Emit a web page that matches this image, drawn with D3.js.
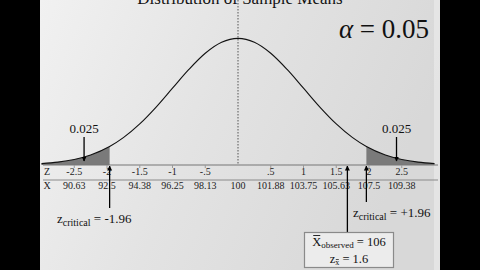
<!DOCTYPE html>
<html><head><meta charset="utf-8">
<script src="https://cdn.jsdelivr.net/npm/d3@7"></script>
<style>html,body{margin:0;padding:0;background:#000;}svg{display:block;}
text{font-family:"Liberation Serif","DejaVu Serif",serif;}</style>
</head><body>
<script>
// ---- data ----
const curveZ = [-3,-2.75,-2.5,-2.25,-1.96,-1.75,-1.5,-1.25,-1,-0.75,-0.5,-0.25,0,0.25,0.5,0.75,1,1.25,1.5,1.75,1.96,2.25,2.5,2.75,3];
const curveDensity = [0.0044,0.0091,0.0175,0.0317,0.0584,0.0863,0.1295,0.1826,0.2420,0.3011,0.3521,0.3867,0.3989,0.3867,0.3521,0.3011,0.2420,0.1826,0.1295,0.0863,0.0584,0.0317,0.0175,0.0091,0.0044];
const tickZ = [-2.5,-2,-1.5,-1,-0.5,0,0.5,1,1.5,2,2.5];
const tickZLabels = ["-2.5","-2","-1.5","-1","-.5","",".5","1","1.5","2","2.5"];
const tickXLabels = ["90.63","92.5","94.38","96.25","98.13","100","101.88","103.75","105.63","107.5","109.38"];
const zCritical = [-1.96, 1.96];
const tailProbLabels = ["0.025", "0.025"];
const tailLabelZ = [-2.35, 2.42];
const observedArrowZ = 1.67;
const observedMean = "106";
const observedZ = "1.6";
const alphaLabel = "0.05";

// ---- drawing ----
const W = 480, H = 270;
const svg = d3.select("body").append("svg").attr("width", W).attr("height", H);
const defs = svg.append("defs");
const grad = defs.append("linearGradient").attr("id","bg").attr("x1","0").attr("y1","0").attr("x2","1").attr("y2","0.3");
grad.append("stop").attr("offset","0").attr("stop-color","#f1f1f1");
grad.append("stop").attr("offset","0.5").attr("stop-color","#e3e3e3");
grad.append("stop").attr("offset","1").attr("stop-color","#d8d8d8");
defs.append("marker").attr("id","ah").attr("viewBox","0 0 10 10").attr("refX",9).attr("refY",5)
  .attr("markerWidth",5).attr("markerHeight",6).attr("orient","auto-start-reverse").attr("markerUnits","userSpaceOnUse")
  .append("path").attr("d","M0,0L10,5L0,10Z").attr("fill","#000");

svg.append("rect").attr("width",W).attr("height",H).attr("fill","#000");
svg.append("rect").attr("x",40).attr("y",0).attr("width",400).attr("height",H).attr("fill","url(#bg)");
svg.append("rect").attr("x",434).attr("y",0).attr("width",6).attr("height",H).attr("fill","#ececec").attr("opacity",0.6);

const x = d3.scaleLinear().domain([-3,3]).range([41.5,434.5]);
const y = d3.scaleLinear().domain([0,0.4]).range([165,38]);
const pts = curveZ.map((z,i)=>({z, d: curveDensity[i]}));

// title (cut off at top as in reference)
svg.append("text").attr("x",240).attr("y",4).attr("text-anchor","middle")
  .attr("font-size",17).attr("fill","#111").text("Distribution of Sample Means");

// shaded tails
const area = d3.area().x(p=>x(p.z)).y0(y(0)).y1(p=>y(p.d)).curve(d3.curveMonotoneX);
svg.append("path").datum(pts.filter(p=>p.z<=zCritical[0])).attr("d",area).attr("fill","#7a7a7a");
svg.append("path").datum(pts.filter(p=>p.z>=zCritical[1])).attr("d",area).attr("fill","#7a7a7a");

// mean dotted line
svg.append("line").attr("x1",x(0)).attr("x2",x(0)).attr("y1",0).attr("y2",y(0))
  .attr("stroke","#555").attr("stroke-width",1).attr("stroke-dasharray","1.5,1.5");

// curve
const line = d3.line().x(p=>x(p.z)).y(p=>y(p.d)).curve(d3.curveMonotoneX);
svg.append("path").datum(pts).attr("d",line).attr("fill","none").attr("stroke","#111").attr("stroke-width",1.1);

// axes lines
svg.append("line").attr("x1",43).attr("x2",438).attr("y1",y(0)).attr("y2",y(0)).attr("stroke","#777").attr("stroke-width",1.2);
svg.append("line").attr("x1",43).attr("x2",438).attr("y1",180).attr("y2",180).attr("stroke","#8a8a8a").attr("stroke-width",1);

// ticks
const tg = svg.append("g");
tg.selectAll("line.t").data(tickZ.filter(z=>z!==0)).join("line")
  .attr("x1",d=>x(d)).attr("x2",d=>x(d)).attr("y1",y(0)).attr("y2",y(0)+3).attr("stroke","#999");
tg.selectAll("text.z").data(tickZ).join("text").attr("class","z")
  .attr("x",d=>x(d)).attr("y",175).attr("text-anchor","middle").attr("font-size",10).attr("fill","#222")
  .text((d,i)=>tickZLabels[i]);
tg.selectAll("text.x").data(tickZ).join("text").attr("class","x")
  .attr("x",d=>x(d)).attr("y",189).attr("text-anchor","middle").attr("font-size",10).attr("fill","#222")
  .text((d,i)=>tickXLabels[i]);
svg.append("text").attr("x",47).attr("y",175).attr("text-anchor","middle").attr("font-size",10).attr("fill","#222").text("Z");
svg.append("text").attr("x",47).attr("y",189).attr("text-anchor","middle").attr("font-size",10).attr("fill","#222").text("X");

// alpha
const at = svg.append("text").attr("x",384).attr("y",38).attr("text-anchor","middle").attr("font-size",27).attr("fill","#111");
at.append("tspan").attr("font-style","italic").text("α");
at.append("tspan").text(" = " + alphaLabel);

// tail labels with arrows
tailLabelZ.forEach((z,i)=>{
  svg.append("text").attr("x",x(z)).attr("y",133).attr("text-anchor","middle").attr("font-size",13).attr("fill","#111").text(tailProbLabels[i]);
  svg.append("line").attr("x1",x(z)).attr("x2",x(z)).attr("y1",137).attr("y2",161).attr("stroke","#000").attr("stroke-width",1.3).attr("marker-end","url(#ah)");
});

// critical arrows
const critLabelY = [223, 217];
const critLabelX = [57, 353];
zCritical.forEach((z,i)=>{
  svg.append("line").attr("x1",x(z)).attr("x2",x(z)).attr("y1",critLabelY[i]-15).attr("y2",y(0)+1).attr("stroke","#000").attr("stroke-width",1.3).attr("marker-end","url(#ah)");
  const t = svg.append("text").attr("x",critLabelX[i]).attr("y",critLabelY[i]).attr("font-size",13).attr("fill","#111");
  t.append("tspan").text("z");
  t.append("tspan").attr("font-size",10).attr("dy",3).text("critical");
  t.append("tspan").attr("dy",-3).text(" = " + (z>0?"+":"") + z.toFixed(2));
});

// observed arrow and box
svg.append("line").attr("x1",x(observedArrowZ)).attr("x2",x(observedArrowZ)).attr("y1",232).attr("y2",y(0)+1).attr("stroke","#000").attr("stroke-width",1.3).attr("marker-end","url(#ah)");
svg.append("rect").attr("x",304.5).attr("y",232.5).attr("width",89).attr("height",35).attr("fill","#ececec").attr("stroke","#8a8a8a").attr("stroke-width",1.2);

function subText(cx, baseY, main, sub, rest, subSize, subDy, size){
  const t = svg.append("text").attr("y",baseY).attr("font-size",size).attr("fill","#111");
  t.append("tspan").text(main);
  t.append("tspan").attr("font-size",subSize).attr("dy",subDy).text(sub);
  t.append("tspan").attr("dy",-subDy).text(rest);
  const w = t.node().getComputedTextLength();
  t.attr("x", cx - w/2);
  return t;
}
const t1 = subText(349, 246, "X", "observed", " = " + observedMean, 9, 2, 12.5);
{
  const ext = t1.node().getExtentOfChar(0);
  svg.append("line").attr("x1",ext.x+1).attr("x2",ext.x+ext.width-1).attr("y1",246-10.5).attr("y2",246-10.5).attr("stroke","#111").attr("stroke-width",0.9);
}
const t2 = subText(349, 263, "z", "x", " = " + observedZ, 8, 2, 12.5);
{
  const ext = t2.node().getExtentOfChar(1);
  svg.append("line").attr("x1",ext.x+0.5).attr("x2",ext.x+ext.width-0.5).attr("y1",263-3.5).attr("y2",263-3.5).attr("stroke","#111").attr("stroke-width",0.7);
}
</script>
</body></html>
